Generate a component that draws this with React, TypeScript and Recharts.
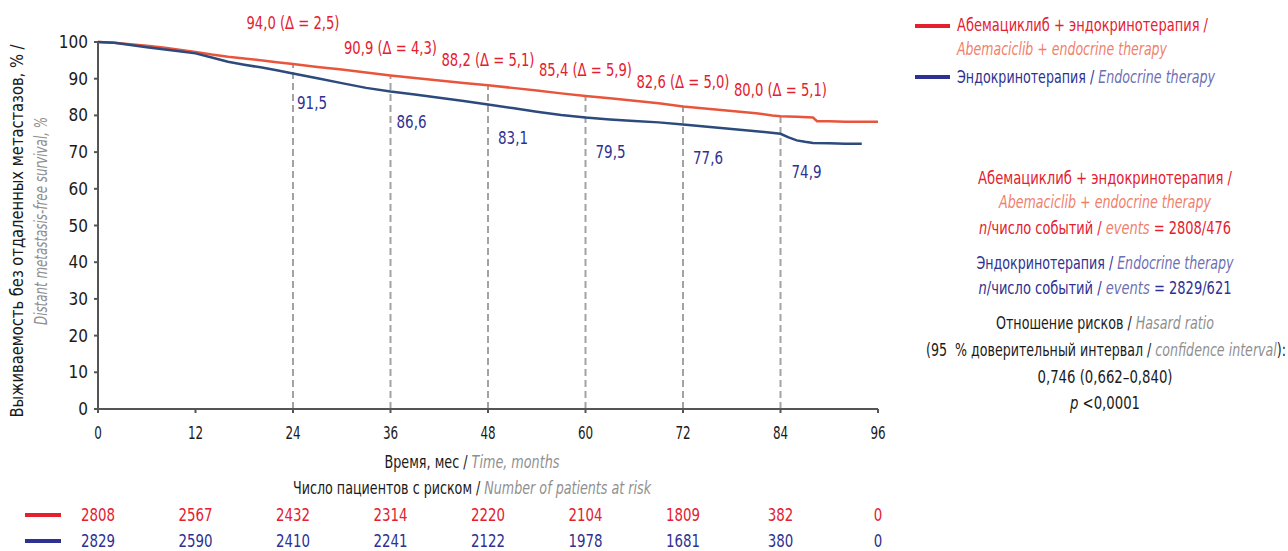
import React from "react";
import {
  LineChart,
  Line,
  XAxis,
  YAxis,
  ReferenceLine,
  ReferenceDot,
} from "recharts";

// Kaplan–Meier: выживаемость без отдаленных метастазов
const timeTicks = [0, 12, 24, 36, 48, 60, 72, 84, 96];
const survTicks = [0, 10, 20, 30, 40, 50, 60, 70, 80, 90, 100];

const abemaTime = [0, 2, 4, 6, 8, 10, 12, 14, 16, 18, 20, 22, 24, 27, 30, 33, 36, 39, 42, 45, 48, 51, 54, 57, 60, 63, 66, 69, 72, 75, 78, 81, 83, 84, 86, 88, 88.5, 90, 92, 94, 96];
const abemaSurv = [100, 99.8, 99.4, 99.0, 98.5, 97.9, 97.3, 96.6, 96.0, 95.5, 95.0, 94.5, 94.0, 93.2, 92.5, 91.7, 90.9, 90.2, 89.5, 88.8, 88.2, 87.5, 86.8, 86.0, 85.3, 84.7, 84.0, 83.3, 82.4, 81.8, 81.2, 80.6, 80.0, 79.8, 79.6, 79.4, 78.4, 78.4, 78.3, 78.3, 78.3];

const endoTime = [0, 2, 4, 6, 8, 10, 12, 14, 16, 18, 20, 22, 24, 27, 30, 33, 36, 39, 42, 45, 48, 51, 54, 57, 60, 63, 66, 69, 72, 75, 78, 81, 84, 85, 86, 87, 88, 90, 92, 94];
const endoSurv = [100, 99.8, 99.2, 98.6, 98.0, 97.5, 96.9, 95.8, 94.6, 93.8, 93.1, 92.3, 91.4, 90.1, 88.8, 87.5, 86.5, 85.7, 84.8, 83.9, 83.0, 82.0, 81.0, 80.1, 79.4, 78.9, 78.5, 78.1, 77.5, 76.9, 76.3, 75.7, 75.0, 74.0, 73.2, 72.8, 72.5, 72.4, 72.3, 72.3];

const markTimes = [24, 36, 48, 60, 72, 84];
const abemaMarks = [94.0, 90.9, 88.2, 85.4, 82.6, 80.0];
const abemaDelta = ["2,5", "4,3", "5,1", "5,9", "5,0", "5,1"];
const endoMarks = [91.5, 86.6, 83.1, 79.5, 77.6, 74.9];

const riskAbema = [2808, 2567, 2432, 2314, 2220, 2104, 1809, 382, 0];
const riskEndo = [2829, 2590, 2410, 2241, 2122, 1978, 1681, 380, 0];

const abemaData = abemaTime.map((t, i) => ({ t, s: abemaSurv[i] }));
const endoData = endoTime.map((t, i) => ({ t, s: endoSurv[i] }));

const FONT = "'Liberation Sans Narrow', 'DejaVu Sans Condensed', 'Arial Narrow', Roboto, sans-serif";
const RED = "#e4202f";
const RED_IT = "#f0806c";
const BLUE = "#2e3192";
const BLUE_IT = "#6e6eb4";
const INK = "#1a1a1a";
const GREY_IT = "#8f8f8f";
const RED_LINE = "#e9553c";
const BLUE_LINE = "#2c4a7c";

// сдвиги подписей относительно точки на кривой
const redLift = [41, 27, 25, 26, 24, 25];
const blueDrop = [30, 31, 34, 35, 34, 38];
const blueDx = [4, 6, 10, 10, 10, 11];

const fit = (w: number) => ({ textLength: w, lengthAdjust: "spacingAndGlyphs" as const });

const TimeTick = (props: any) => {
  const { x, y, payload } = props;
  const i = timeTicks.indexOf(payload.value);
  const a = String(riskAbema[i]);
  const e = String(riskEndo[i]);
  const v = String(payload.value);
  return (
    <g fontFamily={FONT} textAnchor="middle">
      <text x={x} y={y + 24} fill={INK} fontSize={17} {...fit(v.length * 7.6)}>{v}</text>
      <text x={x} y={y + 106} fill={RED} fontSize={17} {...fit(a.length * 8.5)}>{a}</text>
      <text x={x} y={y + 132} fill={BLUE} fontSize={17} {...fit(e.length * 8.5)}>{e}</text>
    </g>
  );
};

const RedLabel = (idx: number) => (props: any) => {
  const vb = props.viewBox || {};
  const cx = vb.x + (vb.width || 0) / 2;
  const cy = vb.y + (vb.height || 0) / 2;
  return (
    <text x={cx} y={cy - redLift[idx] + 6} textAnchor="middle" fontFamily={FONT} fontSize={17} fill={RED} {...fit(93)}>
      {abemaMarks[idx].toFixed(1).replace(".", ",")} (Δ = {abemaDelta[idx]})
    </text>
  );
};

const BlueLabel = (idx: number) => (props: any) => {
  const vb = props.viewBox || {};
  const cx = vb.x + (vb.width || 0) / 2;
  const cy = vb.y + (vb.height || 0) / 2;
  return (
    <text x={cx + blueDx[idx]} y={cy + blueDrop[idx] + 6} textAnchor="start" fontFamily={FONT} fontSize={17} fill={BLUE} {...fit(30)}>
      {endoMarks[idx].toFixed(1).replace(".", ",")}
    </text>
  );
};

export default function App() {
  return (
    <div style={{ position: "absolute", left: 0, top: 0, width: 1288, height: 551, background: "#fff", fontFamily: FONT }}>
      <LineChart width={1288} height={551} margin={{ top: 42, right: 410, bottom: 112, left: 38 }}>
        <XAxis
          type="number"
          dataKey="t"
          domain={[0, 96]}
          ticks={timeTicks}
          allowDataOverflow
          height={30}
          stroke="#555"
          strokeWidth={2}
          tickSize={4}
          tick={<TimeTick />}
        />
        <YAxis
          type="number"
          domain={[0, 100]}
          ticks={survTicks}
          width={60}
          stroke="#555"
          strokeWidth={2}
          tickSize={4}
          tickMargin={6}
          tick={{ fontSize: 17, fill: INK, fontFamily: FONT }}
        />
        {markTimes.map((t, i) => (
          <ReferenceLine
            key={`v-${t}`}
            segment={[{ x: t, y: 0 }, { x: t, y: abemaMarks[i] }]}
            stroke="#a3a3a3"
            strokeWidth={2}
            strokeDasharray="7 4"
          />
        ))}
        <Line data={abemaData} dataKey="s" type="linear" stroke={RED_LINE} strokeWidth={2.5} dot={false} isAnimationActive={false} />
        <Line data={endoData} dataKey="s" type="linear" stroke={BLUE_LINE} strokeWidth={2.5} dot={false} isAnimationActive={false} />
        {markTimes.map((t, i) => (
          <ReferenceDot key={`r-${t}`} x={t} y={abemaMarks[i]} r={1} fill="none" stroke="none" label={RedLabel(i)} />
        ))}
        {markTimes.map((t, i) => (
          <ReferenceDot key={`b-${t}`} x={t} y={endoMarks[i]} r={1} fill="none" stroke="none" label={BlueLabel(i)} />
        ))}
      </LineChart>

      <svg width={1288} height={551} style={{ position: "absolute", left: 0, top: 0, pointerEvents: "none" }} fontFamily={FONT} fontSize={17}>
        {/* подпись оси Y */}
        <text transform="translate(23,231) rotate(-90)" textAnchor="middle" fill={INK} {...fit(373)}>
          Выживаемость без отдаленных метастазов, % /
        </text>
        <text transform="translate(47,221) rotate(-90)" textAnchor="middle" fill={GREY_IT} fontStyle="italic" {...fit(208)}>
          Distant metastasis-free survival, %
        </text>

        {/* подписи оси X */}
        <text x={472} y={468} textAnchor="middle" fill={INK} {...fit(175)}>
          Время, мес / <tspan fill={GREY_IT} fontStyle="italic">Time, months</tspan>
        </text>
        <text x={472} y={494} textAnchor="middle" fill={INK} {...fit(358)}>
          Число пациентов с риском / <tspan fill={GREY_IT} fontStyle="italic">Number of patients at risk</tspan>
        </text>
        <line x1={25} x2={61} y1={515} y2={515} stroke={RED} strokeWidth={4} />
        <line x1={25} x2={61} y1={541} y2={541} stroke={BLUE} strokeWidth={4} />

        {/* легенда */}
        <line x1={915} x2={950} y1={26} y2={26} stroke={RED} strokeWidth={4} />
        <text x={957} y={31} fill={RED} {...fit(251)}>Абемациклиб + эндокринотерапия /</text>
        <text x={957} y={55} fill={RED_IT} fontStyle="italic" {...fit(210)}>Abemaciclib + endocrine therapy</text>
        <line x1={915} x2={950} y1={77} y2={77} stroke={BLUE} strokeWidth={4} />
        <text x={957} y={83} fill={BLUE} {...fit(258)}>
          Эндокринотерапия / <tspan fill={BLUE_IT} fontStyle="italic">Endocrine therapy</tspan>
        </text>

        {/* блок статистики */}
        <g textAnchor="middle">
          <text x={1105} y={184} fill={RED} {...fit(254)}>Абемациклиб + эндокринотерапия /</text>
          <text x={1105} y={208} fill={RED_IT} fontStyle="italic" {...fit(212)}>Abemaciclib + endocrine therapy</text>
          <text x={1105} y={234} fill={RED} {...fit(252)}>
            <tspan fontStyle="italic">n</tspan>/число событий / <tspan fill={RED_IT} fontStyle="italic">events</tspan> = 2808/476
          </text>
          <text x={1105} y={269} fill={BLUE} {...fit(257)}>
            Эндокринотерапия / <tspan fill={BLUE_IT} fontStyle="italic">Endocrine therapy</tspan>
          </text>
          <text x={1105} y={294} fill={BLUE} {...fit(253)}>
            <tspan fontStyle="italic">n</tspan>/число событий / <tspan fill={BLUE_IT} fontStyle="italic">events</tspan> = 2829/621
          </text>
          <text x={1105} y={329} fill={INK} {...fit(218)}>
            Отношение рисков / <tspan fill={GREY_IT} fontStyle="italic">Hasard ratio</tspan>
          </text>
          <text x={1106} y={356} fill={INK} {...fit(360)}>
            (95{"\u00a0"} % доверительный интервал / <tspan fill={GREY_IT} fontStyle="italic">confidence interval</tspan>):
          </text>
          <text x={1105} y={383} fill={INK} {...fit(135)}>0,746 (0,662–0,840)</text>
          <text x={1105} y={409} fill={INK} {...fit(70)}>
            <tspan fontStyle="italic">p</tspan> &lt;0,0001
          </text>
        </g>
      </svg>
    </div>
  );
}
